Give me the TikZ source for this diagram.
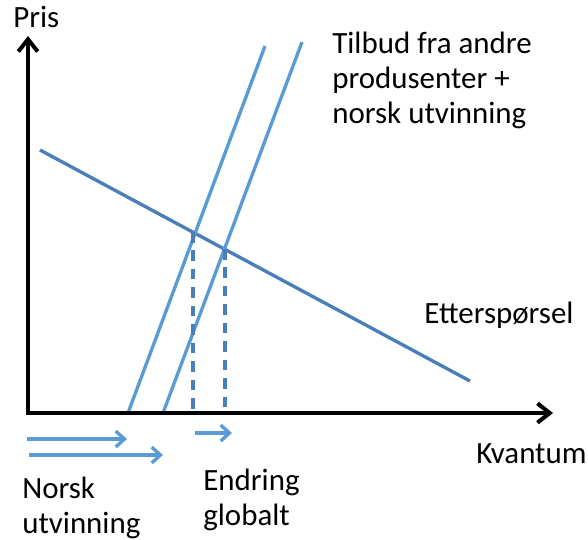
\documentclass[tikz,border=0pt]{standalone}
\usepackage{fontspec}
\setmainfont{Carlito}
\usetikzlibrary{arrows.meta}
\definecolor{lysblaa}{RGB}{91,155,213}
\definecolor{mørkblaa}{RGB}{74,126,187}
\tikzset{
  akse/.style={line width=2.3pt, -{Straight Barb[length=7pt,width=11pt,line width=2.3pt]}},
  tilbud/.style={lysblaa, line width=1.9pt},
  skift/.style={lysblaa, line width=1.9pt, -{Straight Barb[length=5pt,width=9pt,line width=1.9pt]}},
  merke/.style={inner sep=0pt, align=left, font=\fontsize{17.6}{19.8}\selectfont},
}
\begin{document}
\begin{tikzpicture}[x=0.02cm, y=-0.02cm]
    \useasboundingbox (0,0) rectangle (588,539);
    \coordinate (o) at (28, 413);
    \coordinate (ytopp) at (28, 36);
    \coordinate (xende) at (553, 413);
    \coordinate (d1) at (40, 150);
    \coordinate (d2) at (470, 381);
    \coordinate (s1a) at (128, 413);
    \coordinate (s1b) at (265, 46);
    \coordinate (s2a) at (163, 413);
    \coordinate (s2b) at (302, 42);
    \coordinate (k1) at (193, 232);
    \coordinate (k2) at (225, 249);
    \coordinate (k1x) at (193, 413);
    \coordinate (k2x) at (225, 413);
    \coordinate (n1a) at (27, 439);
    \coordinate (n1b) at (127, 439);
    \coordinate (n2a) at (29, 455);
    \coordinate (n2b) at (163, 455);
    \coordinate (g1) at (195, 433);
    \coordinate (g2) at (232, 433);
    \node[merke, anchor=base west] (pris) at (13, 27) {Pris};
    \node[merke, anchor=base west] (kvantum) at (476, 463) {Kvantum};
    \node[merke, anchor=base west] (etter) at (424, 323) {Etterspørsel};
    \node[merke, anchor=base west] (tilb) at (332, 123) {Tilbud fra andre\\produsenter +\\norsk utvinning};
    \node[merke, anchor=base west] (norsk) at (22, 533) {Norsk\\utvinning};
    \node[merke, anchor=base west] (endr) at (203, 525) {Endring\\globalt};
    \draw [mørkblaa, line width=1.9pt] (d1) -- (d2);
    \draw [tilbud] (s1a) -- (s1b);
    \draw [tilbud] (s2a) -- (s2b);
    \draw [mørkblaa, line width=2.2pt, dash pattern=on 6pt off 4.5pt] (k1) -- (k1x);
    \draw [mørkblaa, line width=2.2pt, dash pattern=on 6pt off 4.5pt] (k2) -- (k2x);
    \draw [akse] (o) -- (ytopp);
    \draw [akse] ([xshift=-1.15pt]o) -- (xende);
    \draw [skift] (n1a) -- (n1b);
    \draw [skift] (n2a) -- (n2b);
    \draw [skift] (g1) -- (g2);
  \end{tikzpicture}
\end{document}
